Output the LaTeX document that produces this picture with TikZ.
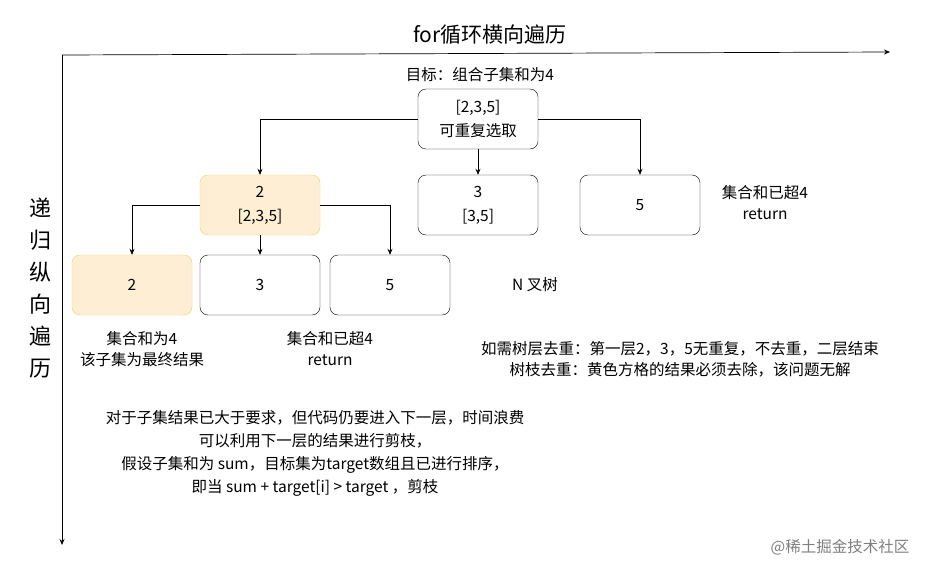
\documentclass[tikz,border=0pt]{standalone}
\usepackage{fontspec}
\setmainfont{Noto Sans CJK SC}
\usetikzlibrary{arrows.meta}
\begin{document}
\begin{tikzpicture}[x=1pt,y=-1pt,
  box/.style={draw=black,rounded corners=8pt,minimum width=120pt,minimum height=60pt,align=center,font=\fontsize{15.5}{24}\selectfont,inner sep=0pt},
  ybox/.style={box,draw=yellow!50!brown!70,fill=yellow!25!orange!15},
  lbl/.style={align=center,font=\fontsize{15.5}{21}\selectfont},
  con/.style={-{Stealth[length=6pt,width=5pt]},line width=0.7pt}]
\useasboundingbox (0,0) rectangle (941,575);
\fill[white] (0,0) rectangle (941,575);
\node[font=\fontsize{21}{24}\selectfont] (title) at (490,35) {for循环横向遍历};
\coordinate (o) at (62,55);
\coordinate (xe) at (890,52);
\coordinate (ye) at (62,545);
\draw[con] (o) -- (xe);
\draw[con] (o) -- (ye);
\node[align=center,font=\fontsize{22}{32}\selectfont] (vt) at (40,288) {递\\归\\纵\\向\\遍\\历};
\node[lbl] (goal) at (480,75) {目标：组合子集和为4};
\node[box] (root) at (478,119) {{[2,3,5]}\\{}{可重复选取}};
\node[ybox] (b2) at (260,205) {2\\{}{[2,3,5]}};
\node[box] (b3) at (478,205) {3\\{}{[3,5]}};
\node[box] (b5) at (640,205) {5};
\node[lbl] (r1) at (765,203) {集合和已超4\\return};
\node[ybox] (c2) at (132,285) {2};
\node[box] (c3) at (260,285) {3};
\node[box] (c5) at (390,285) {5};
\node[lbl] (nt) at (535,285) {N 叉树};
\node[lbl] (l1) at (142,349) {集合和为4\\该子集为最终结果};
\node[lbl] (l2) at (330,349) {集合和已超4\\return};
\node[lbl] (l3) at (680,359) {如需树层去重：第一层2，3，5无重复，不去重，二层结束\\树枝去重：黄色方格的结果必须去除，该问题无解};
\node[lbl,font=\fontsize{15.5}{23}\selectfont] (para) at (315,453) {对于子集结果已大于要求，但代码仍要进入下一层，时间浪费\\可以利用下一层的结果进行剪枝，\\假设子集和为 sum，目标集为target数组且已进行排序，\\即当 sum + target{[i]} \textgreater{} target ，剪枝};
\node[lbl,text=gray] (wm) at (840,547) {@稀土掘金技术社区};
\draw[con] (root.west) -| (b2.north);
\draw[con] (root.south) -- (b3.north);
\draw[con] (root.east) -| (b5.north);
\draw[con] (b2.west) -| (c2.north);
\draw[con] (b2.south) -- (c3.north);
\draw[con] (b2.east) -| (c5.north);
\end{tikzpicture}
\end{document}
